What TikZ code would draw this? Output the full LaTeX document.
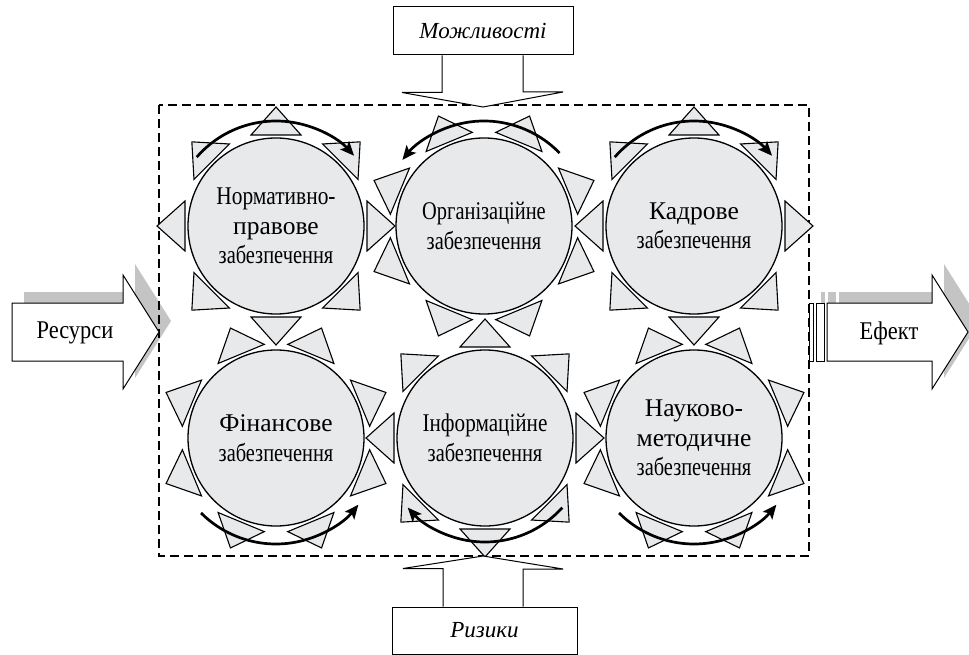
\documentclass[tikz,border=0pt]{standalone}
\usepackage{fontspec}
\usepackage{graphicx}
\setmainfont{Liberation Serif}
\usetikzlibrary{arrows.meta,calc}
\definecolor{cfill}{HTML}{E8E9EB}
\definecolor{shade}{HTML}{C4C4C4}
\newcommand\hs[2]{\scalebox{#1}[1]{#2}}
\tikzset{
 circ/.style={circle, draw, line width=1.3pt, fill=cfill, minimum size=176pt, inner sep=0pt, align=center, font=\fontsize{25.5}{29.5}\selectfont},
 tri/.style={draw, line width=1.1pt, fill=cfill, line join=miter},
 turn/.style={line width=2.7pt, -{Stealth[length=14pt,width=12pt,inset=3pt]}},
 bigarrow/.style={draw, line width=1pt, fill=white, line join=miter},
 shadowfill/.style={fill=shade},
 dashbox/.style={draw, line width=1.2pt, dash pattern=on 9pt off 5pt},
 lbl/.style={draw, line width=1pt, fill=white, inner sep=0pt, font=\fontsize{23}{27}\selectfont\itshape},
 side/.style={inner sep=0pt, font=\fontsize{25.5}{29.5}\selectfont},
}
\newcommand\rays[2]{%
 \foreach \k in {0,...,7}{%
   \pgfmathsetmacro\a{#2+45*\k}%
   \pgfmathsetmacro\b{\a+90}%
   \pgfmathsetmacro\c{\a-90}%
   \draw[tri] ($(#1)+(\a:91)+(\b:25)$) -- ($(#1)+(\a:119)$) -- ($(#1)+(\a:91)+(\c:25)$) -- cycle;
 }}
\begin{document}
\begin{tikzpicture}[x=1pt,y=-1pt]
\useasboundingbox (0,0) rectangle (969,655);
\clip (0,0) rectangle (969,655);
% shadows
\begin{scope}[shift={(12,-11)}]
 \fill[shadowfill] (12,303) -- (123,303) -- (123,275) -- (159,332) -- (123,389) -- (123,361) -- (12,361) -- cycle;
 \fill[shadowfill] (809,303) rectangle (813,361);
 \fill[shadowfill] (816,303) rectangle (824,361);
 \fill[shadowfill] (827,303) -- (932,303) -- (932,275) -- (968,332) -- (932,389) -- (932,361) -- (827,361) -- cycle;
\end{scope}
% dashed frame
\draw[dashbox] (159,105) rectangle (809,556);
% circles
\node[circ] (c1) at (276,226) {\hs{0.84}{Нормативно-}\\правове\\\hs{0.8}{забезпечення}};
\node[circ] (c2) at (484,226) {\hs{0.8}{Організаційне}\\\hs{0.8}{забезпечення}};
\node[circ] (c3) at (694,226) {Кадрове\\\hs{0.8}{забезпечення}};
\node[circ] (c4) at (276,438) {Фінансове\\\hs{0.8}{забезпечення}};
\node[circ] (c5) at (485,438) {\hs{0.83}{Інформаційне}\\\hs{0.8}{забезпечення}};
\node[circ] (c6) at (694,438) {Науково-\\методичне\\\hs{0.8}{забезпечення}};
\rays{c1}{0}
\rays{c2}{22.5}
\rays{c3}{0}
\rays{c4}{22.5}
\rays{c5}{0}
\rays{c6}{22.5}
% rotation arrows
\draw[turn] ($(c1)+(221:105)$) arc[start angle=221, end angle=318, radius=105];
\draw[turn] ($(c2)+(316:105)$) arc[start angle=316, end angle=219, radius=105];
\draw[turn] ($(c3)+(221:105)$) arc[start angle=221, end angle=318, radius=105];
\draw[turn] ($(c4)+(135:106)$) arc[start angle=135, end angle=39, radius=106];
\draw[turn] ($(c5)+(42:104)$) arc[start angle=42, end angle=138, radius=104];
\draw[turn] ($(c6)+(135:106)$) arc[start angle=135, end angle=39, radius=106];
% top / bottom inputs
\node[lbl, minimum width=180pt, minimum height=48pt] (mozh) at (483,31) {Можливості};
\draw[bigarrow] ($(mozh.south)+(-41,0)$) -- ++(0,37) -- ++(-40,0) -- (483,107) -- (563,92) -- (523,92) -- ($(mozh.south)+(40,0)$);
\node[lbl, minimum width=185pt, minimum height=47pt] (riz) at (484.5,630.5) {Ризики};
\draw[bigarrow] ($(riz.north)+(-41.5,0)$) -- ++(0,-38) -- ++(-40,0) -- (483,556) -- (563,569) -- (523,569) -- ($(riz.north)+(38.5,0)$);
% side arrows
\draw[bigarrow] (12,303) -- (123,303) -- (123,275) -- (159,332) -- (123,389) -- (123,361) -- (12,361) -- cycle;
\node[side] (res) at (75,333) {\hs{0.88}{Ресурси}};
\draw[bigarrow] (809,303) rectangle (813,361);
\draw[bigarrow] (816,303) rectangle (824,361);
\draw[bigarrow] (827,303) -- (932,303) -- (932,275) -- (968,332) -- (932,389) -- (932,361) -- (827,361) -- cycle;
\node[side] (ef) at (889,333) {\hs{0.88}{Ефект}};
\end{tikzpicture}
\end{document}
